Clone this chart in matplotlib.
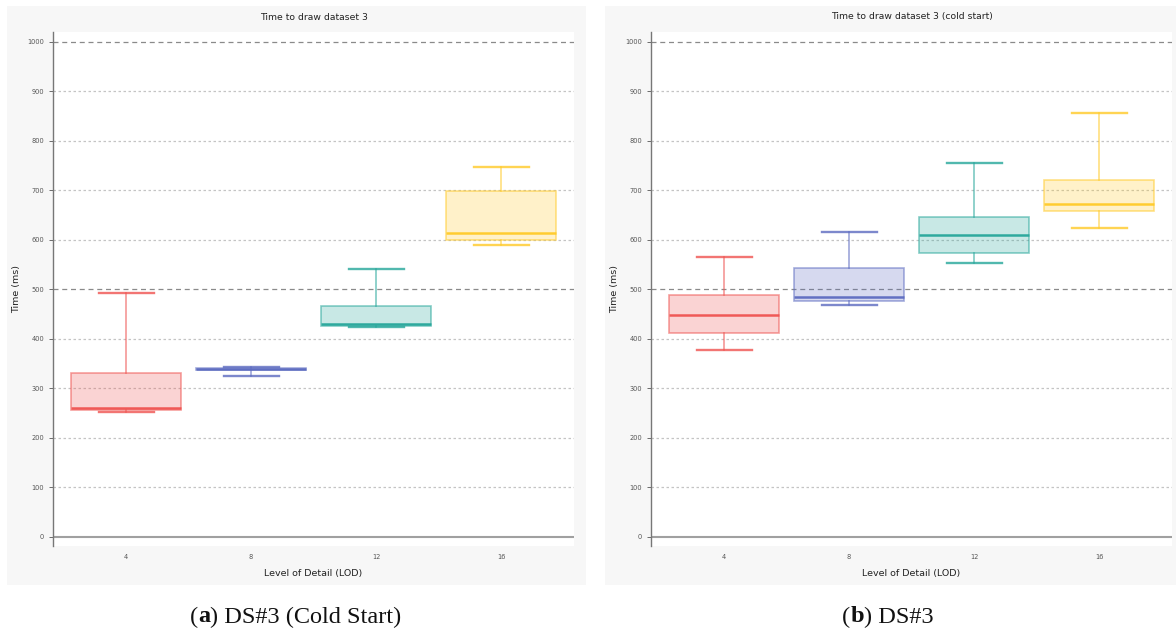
import matplotlib
matplotlib.use("Agg")
import matplotlib.pyplot as plt
from matplotlib.patches import Rectangle
from matplotlib.colors import to_rgba

lod_labels = ["4", "8", "12", "16"]

# panel (a): whislo, q1, median, q3, whishi
a_whislo = [251, 324, 424, 590]
a_q1 = [255, 336, 426, 599]
a_med = [260, 339, 429, 613]
a_q3 = [331, 341, 466, 698]
a_whishi = [492, 343, 541, 748]

# panel (b)
b_whislo = [377, 468, 554, 624]
b_q1 = [411, 476, 574, 659]
b_med = [448, 485, 609, 673]
b_q3 = [488, 543, 647, 720]
b_whishi = [566, 615, 756, 857]

titles = ["Time to draw dataset 3", "Time to draw dataset 3 (cold start)"]
captions = [("a", " DS#3 (Cold Start)"), ("b", " DS#3")]
colors = ["#EF5350", "#5C6BC0", "#26A69A", "#FFCA28"]

W, H = 1176, 637
fig = plt.figure(figsize=(W / 100, H / 100), dpi=100)
fig.patch.set_facecolor("white")

panels = [
    dict(bg=(7, 6, 586, 585), ax=(53, 32, 574, 546), cap_x=296),
    dict(bg=(605, 6, 1176, 585), ax=(651, 32, 1172, 546), cap_x=888),
]

data = [
    (a_whislo, a_q1, a_med, a_q3, a_whishi),
    (b_whislo, b_q1, b_med, b_q3, b_whishi),
]

renderer = fig.canvas.get_renderer()

for pi, (p, d) in enumerate(zip(panels, data)):
    x0, y0, x1, y1 = p["bg"]
    fig.patches.append(Rectangle((x0 / W, 1 - y1 / H), (x1 - x0) / W, (y1 - y0) / H,
                                 transform=fig.transFigure, facecolor="#f7f7f7",
                                 edgecolor="none", zorder=-5))
    ax0, ay0, ax1, ay1 = p["ax"]
    ax = fig.add_axes([ax0 / W, 1 - ay1 / H, (ax1 - ax0) / W, (ay1 - ay0) / H])
    ax.set_zorder(2)
    ax.set_facecolor("white")
    wl, q1, md, q3, wh = d
    stats = []
    for i in range(4):
        stats.append(dict(whislo=wl[i], q1=q1[i], med=md[i], q3=q3[i], whishi=wh[i],
                          fliers=[], label=lod_labels[i]))
    # gridlines
    for v in [100, 200, 300, 400, 600, 700, 800, 900]:
        ax.axhline(v, color="#c4c4c4", lw=0.9, ls=(0, (2, 2)), zorder=1)
    for v in [500, 1000]:
        ax.axhline(v, color="#8a8a8a", lw=0.9, ls=(0, (4, 3)), zorder=1)
    ax.axhline(0, color="#a0a0a0", lw=1.5, zorder=1)
    for i in range(4):
        c = colors[i]
        ax.bxp([stats[i]], positions=[i], widths=0.88, patch_artist=True,
               showfliers=False,
               boxprops=dict(facecolor=to_rgba(c, 0.25), edgecolor=to_rgba(c, 0.55), lw=1.2),
               medianprops=dict(color=to_rgba(c, 0.95), lw=1.8),
               whiskerprops=dict(color=to_rgba(c, 0.6), lw=1.2),
               capprops=dict(color=to_rgba(c, 0.8), lw=1.7),
               manage_ticks=False, zorder=3)
    ax.set_xlim(-0.584, 3.584)
    ax.set_ylim(-19, 1020)
    ax.set_xticks(range(4))
    ax.set_xticklabels(lod_labels)
    ax.set_yticks(range(0, 1001, 100))
    ax.tick_params(axis="both", labelsize=4.8, colors="#555555", length=3, width=0.6)
    ax.tick_params(axis="x", length=0, pad=6)
    for s in ["top", "right", "bottom"]:
        ax.spines[s].set_visible(False)
    ax.spines["left"].set_color("#777777")
    ax.spines["left"].set_linewidth(1.0)
    ax.set_title(titles[pi], fontsize=6.7, color="#222222", pad=9)
    ax.set_xlabel("Level of Detail (LOD)", fontsize=6.8, color="#222222", labelpad=6)
    ax.set_ylabel("Time (ms)", fontsize=6.8, color="#222222", labelpad=4)

    letter, rest = captions[pi]
    full_parts = [("(", "normal"), (letter, "bold"), (")" + rest, "normal")]
    widths = []
    objs = []
    for txt, wt in full_parts:
        o = fig.text(0, 1 - 617 / H, txt, fontsize=17.5, family="Liberation Serif",
                     weight=wt, ha="left", va="center", color="#111111")
        bb = o.get_window_extent(renderer=renderer)
        widths.append(bb.width)
        objs.append(o)
    total = sum(widths)
    xs = p["cap_x"] - total / 2
    for o, w in zip(objs, widths):
        o.set_x(xs / W)
        xs += w

fig.savefig("out.png", dpi=100)
